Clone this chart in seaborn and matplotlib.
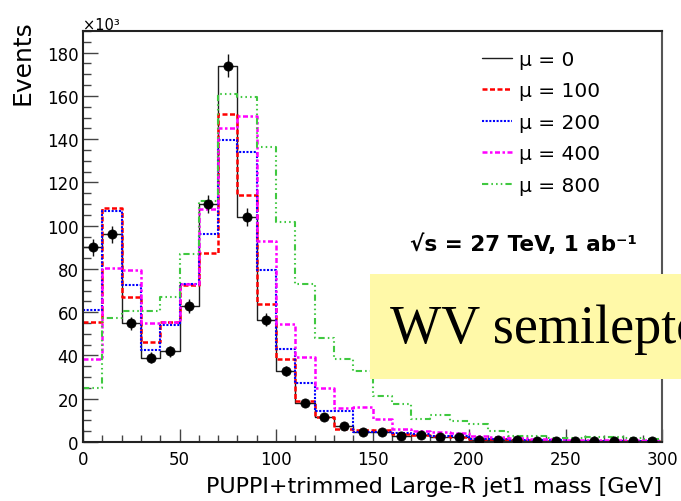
import numpy as np
import pandas as pd
import matplotlib
matplotlib.use("Agg")
import matplotlib.pyplot as plt
import seaborn as sns
from matplotlib.ticker import MultipleLocator
from matplotlib.patches import Rectangle

# Jet mass binning: 30 bins of 10 GeV
bin_edges = np.arange(0, 310, 10)
bin_centers = bin_edges[:-1] + 5

# Events per bin, in units of 10^3
mu0 = [90, 96, 55, 39, 42, 63, 110, 174, 104, 56.5, 33, 18, 11.6, 7.3, 4.6,
       4.6, 3.0, 3.2, 2.1, 2.2, 0.8, 1.0, 0.8, 0.5, 0.5, 0.3, 0.4, 0.4, 0.4, 0.6]
mu0_err = [3.9, 4.0, 3.0, 2.5, 2.6, 3.2, 4.2, 5.2, 4.1, 3.0, 2.3, 1.7, 1.4, 1.1, 0.9,
           0.9, 0.7, 0.7, 0.6, 0.6, 0.4, 0.4, 0.4, 0.3, 0.3, 0.2, 0.3, 0.3, 0.3, 0.3]
mu100 = [55.3, 108.4, 66.9, 46.3, 55.6, 72.8, 87.5, 151.5, 114, 63.8, 38.2, 19.0, 11.6, 6.0, 5.4,
         5.4, 3.6, 3.4, 2.6, 2.4, 1.2, 1.2, 0.9, 0.7, 0.6, 0.5, 0.5, 0.5, 0.4, 0.5]
mu200 = [61.1, 106.7, 72.8, 42.6, 54.0, 73.0, 96.0, 139.6, 134.2, 79.7, 43.2, 27.5, 14.5, 14.5, 4.8,
         4.8, 4.0, 3.8, 3.0, 2.8, 1.6, 1.4, 1.1, 0.9, 0.7, 0.6, 0.6, 0.5, 0.5, 0.5]
mu400 = [38.5, 80.3, 79.7, 55.0, 55.6, 73.0, 107.9, 145.0, 150.8, 92.9, 54.5, 39.5, 25.0, 15.8, 16.0,
         10.8, 5.8, 4.9, 4.5, 4.2, 3.0, 2.5, 1.9, 1.5, 1.2, 1.0, 0.9, 0.8, 0.7, 0.7]
mu800 = [24.8, 57.1, 60.4, 60.4, 66.9, 86.7, 111.3, 161.0, 159.3, 136.5, 101.7, 73.0, 48.3, 38.6, 32.8,
         21.2, 17.5, 10.8, 12.7, 9.6, 8.3, 4.9, 2.9, 3.0, 2.0, 1.8, 2.3, 2.3, 1.8, 1.5]

labels = ["μ = 0", "μ = 100", "μ = 200", "μ = 400", "μ = 800"]
x_ticks = [0, 50, 100, 150, 200, 250, 300]
y_ticks = [0, 20, 40, 60, 80, 100, 120, 140, 160, 180]

sns.set_theme(style="ticks")
plt.rcParams["font.family"] = ["DejaVu Sans"]
plt.rcParams["text.color"] = "black"
plt.rcParams["axes.labelcolor"] = "black"
plt.rcParams["xtick.color"] = "black"
plt.rcParams["ytick.color"] = "black"

W, H = 681, 502
fig = plt.figure(figsize=(W / 100, H / 100), dpi=100)
ax = fig.add_axes([83 / W, 1 - 443 / H, (662 - 83) / W, (443 - 32) / H])

line_styles = [
    dict(color="#1e1e1e", linewidth=1.0, linestyle="-"),
    dict(color="#ff0000", linewidth=1.8, dashes=(2.0, 1.0)),
    dict(color="#0000ff", linewidth=1.5, dashes=(1.0, 0.75)),
    dict(color="#ff00ff", linewidth=1.8, dashes=(2.0, 1.0, 1.0, 1.0)),
    dict(color="#40c840", linewidth=1.5,
         dashes=(3.0, 1.5, 0.75, 1.5, 0.75, 1.5, 0.75, 1.5)),
]
series = [mu0, mu100, mu200, mu400, mu800]

handles = []
for vals, style in zip(series, line_styles):
    kw = dict(style)
    color = kw.pop("color")
    df = pd.DataFrame({"mass": bin_centers, "events": vals})
    sns.histplot(data=df, x="mass", weights="events", binwidth=10,
                 binrange=(bin_edges[0], bin_edges[-1]), element="step",
                 fill=False, color=color, ax=ax, **kw)
    handles.append(ax.lines[-1])

# mu = 0 points with statistical error bars
ax.errorbar(bin_centers, mu0, yerr=mu0_err, fmt="none", ecolor="#111111",
            elinewidth=1.0, capsize=0, zorder=5)
sns.scatterplot(x=bin_centers, y=mu0, color="black", s=44, edgecolor="black",
                linewidth=0.5, ax=ax, zorder=6)

ax.set_xlim(0, 300)
ax.set_ylim(0, 190)
ax.set_xlabel("")
ax.set_ylabel("")
ax.set_xticks(x_ticks)
ax.set_yticks(y_ticks)
ax.xaxis.set_minor_locator(MultipleLocator(10))
ax.yaxis.set_minor_locator(MultipleLocator(5))
ax.tick_params(axis="both", which="both", direction="in", top=False, right=False,
               color="#444444", width=1.0, labelcolor="black")
ax.tick_params(axis="x", which="major", length=9.1, pad=6.0, labelsize=12)
ax.tick_params(axis="x", which="minor", length=4.8)
ax.tick_params(axis="y", which="major", length=11.0, pad=3.2, labelsize=12)
ax.tick_params(axis="y", which="minor", length=5.6)
for name, sp in ax.spines.items():
    sp.set_visible(True)
    sp.set_linewidth(1.5)
    sp.set_color("#222222" if name != "right" else "#555555")

leg = ax.legend(handles, labels, loc="upper left",
                bbox_to_anchor=(482 / W, 1 - 51 / H), bbox_transform=fig.transFigure,
                frameon=False, fontsize=14.5, handlelength=1.49,
                handletextpad=0.35, labelspacing=0.62, borderpad=0, borderaxespad=0)
for t in leg.get_texts():
    t.set_color("black")

fig.text(83 / W, 1 - 30 / H, "×10³", fontsize=10.5, ha="left", va="baseline")
fig.text(23 / W, 1 - 20 / H, "Events", fontsize=18, rotation=90,
         ha="center", va="top")
fig.text(662 / W, 1 - 487 / H, "PUPPI+trimmed Large-R jet1 mass [GeV]",
         fontsize=16, ha="right", va="center")
fig.text(410 / W, 1 - 251 / H, "√s = 27 TeV, 1 ab⁻¹", fontsize=15.5,
         fontweight="bold", ha="left", va="baseline")

# Slide annotation box laid over the plot
fig.add_artist(Rectangle((370 / W, 1 - 380 / H), 0.5, 105 / H,
                         transform=fig.transFigure, facecolor="#fff9a8",
                         edgecolor="none", zorder=2))
fig.text(390 / W, 1 - 343 / H, "WV semileptonic", fontsize=39,
         family="Liberation Serif", color="black", ha="left", va="baseline",
         zorder=3)

fig.savefig("out.png", dpi=100)
